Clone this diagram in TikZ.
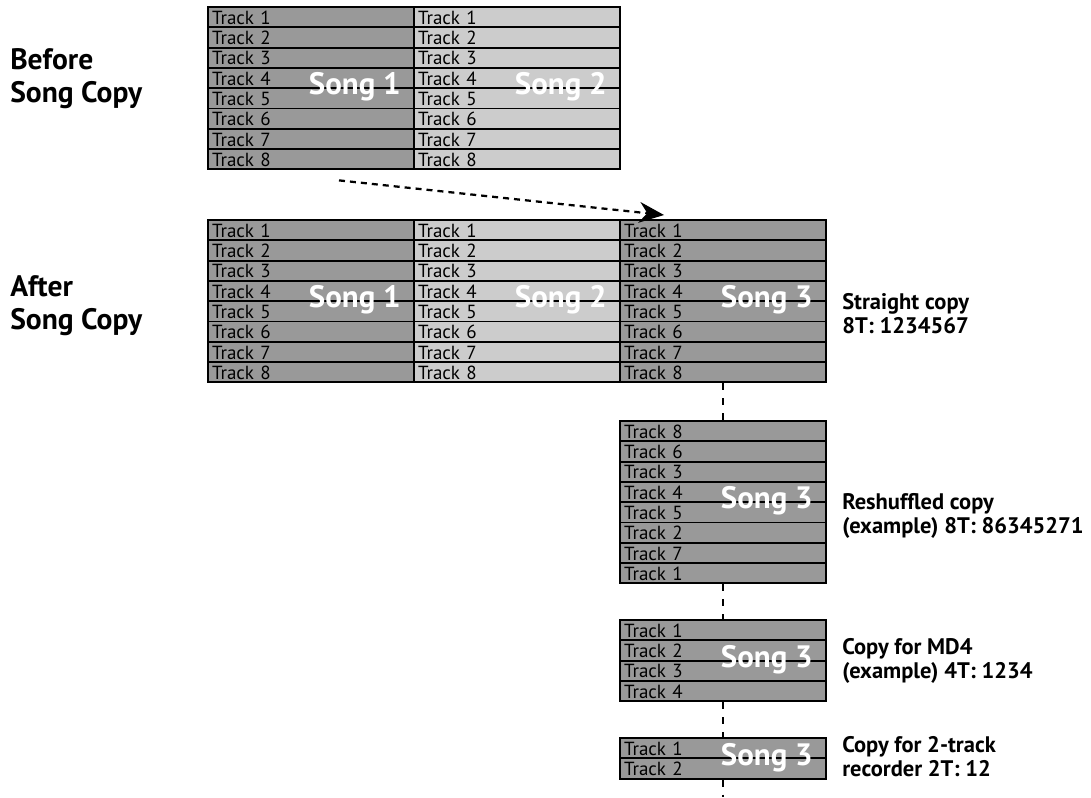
\documentclass[tikz,border=0pt]{standalone}
\usepackage{fontspec}
\setmainfont{PT Sans}
\usetikzlibrary{arrows.meta}
\newdimen\pxu \pxu=0.025cm
\definecolor{songdark}{HTML}{999999}
\definecolor{songlight}{HTML}{CCCCCC}

\begin{document}
\begin{tikzpicture}[
  x=0.025cm, y=-0.025cm,
  trk/.style={draw, line width=1.4pt, fill=#1, minimum width=206\pxu, minimum height=20.3\pxu,
    text width=198\pxu, inner xsep=4\pxu, inner ysep=0pt, align=left,
    text height=12.3pt, text depth=2.1pt, font=\fontsize{13.5}{13.5}\selectfont},
  song/.style={text=white, font=\fontsize{22}{22}\selectfont\bfseries, anchor=base east, inner sep=0pt},
  side/.style={font=\fontsize{21}{23.4}\selectfont\bfseries, align=left, anchor=base west, inner sep=0pt},
  note/.style={font=\fontsize{16}{17}\selectfont\bfseries, align=left, anchor=base west, inner sep=0pt},
  cpy/.style={-{Stealth[length=0.62cm, width=0.52cm, inset=0.2cm]}, line width=1.6pt, dash pattern=on 6\pxu off 5\pxu},
  lnk/.style={line width=1.4pt, dash pattern=on 7\pxu off 8\pxu},
]
\useasboundingbox (0,0) rectangle (1091,797);

% --- Before ---
\node[side] (before) at (10,102) {Before\\Song Copy};
\foreach \i in {1,...,8} {
  \node[trk=songdark] (preA\i) at (311,{7+20.3*(\i-0.5)}) {Track \i};
  \node[trk=songlight] (preB\i) at (517,{7+20.3*(\i-0.5)}) {Track \i};
}
\node[song] (preAlbl) at (401,94) {Song 1};
\node[song] (preBlbl) at (607,94) {Song 2};

% --- After ---
\node[side] (after) at (10,329) {After\\Song Copy};
\foreach \i in {1,...,8} {
  \node[trk=songdark] (postA\i) at (311,{220+20.3*(\i-0.5)}) {Track \i};
  \node[trk=songlight] (postB\i) at (517,{220+20.3*(\i-0.5)}) {Track \i};
  \node[trk=songdark] (postC\i) at (723,{220+20.3*(\i-0.5)}) {Track \i};
}
\node[song] (postAlbl) at (401,307) {Song 1};
\node[song] (postBlbl) at (607,307) {Song 2};
\node[song] (postClbl) at (813,307) {Song 3};
\node[note] (straight) at (842,333) {Straight copy\\8T: 1234567};

\coordinate (cpfrom) at ([xshift=-76\pxu, yshift=-10\pxu]preA8.south east);
\coordinate (cpto) at ([xshift=45\pxu, yshift=4\pxu]postC1.north west);
\draw[cpy] (cpfrom) -- (cpto);

% --- Reshuffled ---
\foreach \t [count=\i] in {8,6,3,4,5,2,7,1}
  \node[trk=songdark] (shuf\i) at (723,{421+20.3*(\i-0.5)}) {Track \t};
\node[song] (shuflbl) at (813,508) {Song 3};
\node[note] (reshuf) at (842,533) {Reshuffled copy\\(example) 8T: 86345271};

% --- MD4 ---
\foreach \i in {1,...,4}
  \node[trk=songdark] (md\i) at (723,{620+20.3*(\i-0.5)}) {Track \i};
\node[song] (mdlbl) at (813,667) {Song 3};
\node[note] (mdnote) at (842,678) {Copy for MD4\\(example) 4T: 1234};

% --- 2-track ---
\foreach \i in {1,2}
  \node[trk=songdark] (tt\i) at (723,{738+20.3*(\i-0.5)}) {Track \i};
\node[song] (ttlbl) at (813,765) {Song 3};
\node[note] (ttnote) at (842,776) {Copy for 2-track\\recorder 2T: 12};

\coordinate (lnkend) at (723,797);
\draw[lnk] (postC8.south) -- (shuf1.north);
\draw[lnk] (shuf8.south) -- (md1.north);
\draw[lnk] (md4.south) -- (tt1.north);
\draw[lnk] (tt2.south) -- (lnkend);

\end{tikzpicture}
\end{document}
